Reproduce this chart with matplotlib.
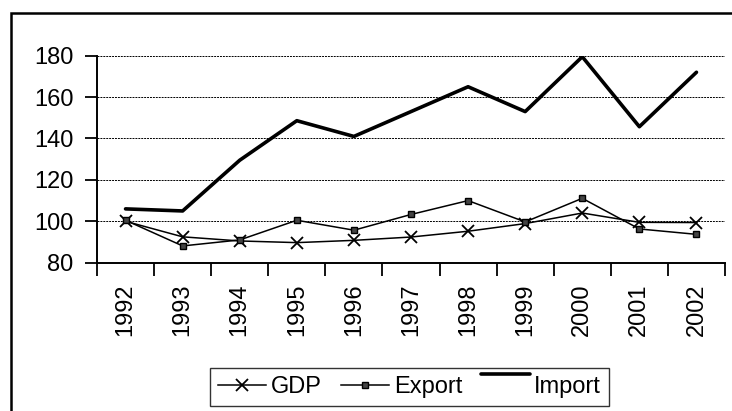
import matplotlib
matplotlib.use("Agg")
import matplotlib.pyplot as plt
from matplotlib.legend_handler import HandlerLine2D
from matplotlib.patches import Rectangle

plt.rcParams['font.family'] = ['Liberation Sans', 'DejaVu Sans']

# data
years = ["1992", "1993", "1994", "1995", "1996", "1997",
         "1998", "1999", "2000", "2001", "2002"]
gdp = [100, 92.5, 90.5, 89.7, 90.8, 92.4, 95.2, 98.9, 104, 99.5, 99.4]
export = [100.5, 88.1, 91, 100.5, 95.7, 103.3, 110, 99.7, 111.1, 96.3, 93.7]
imports = [106, 105, 129.5, 148.6, 141, 153, 165, 153, 179.5, 145.7, 172]
y_ticks = [80, 100, 120, 140, 160, 180]


class RaisedLineHandler(HandlerLine2D):
    """Excel draws the Import key line at the top of the legend row."""
    def create_artists(self, legend, orig_handle, xdescent, ydescent,
                       width, height, fontsize, trans):
        artists = super().create_artists(legend, orig_handle, xdescent, ydescent,
                                         width, height, fontsize, trans)
        for a in artists:
            if hasattr(a, "set_ydata"):
                a.set_ydata([height * 1.15] * len(a.get_ydata()))
        return artists


fig = plt.figure(figsize=(7.32, 4.11), dpi=100)
ax = fig.add_axes([97 / 732, 148.3 / 411, 628 / 732, 207 / 411])

x = list(range(len(years)))
l_gdp, = ax.plot(x, gdp, color="black", lw=1.1, marker="x", ms=8, mew=1.3,
                 label="GDP")
l_exp, = ax.plot(x, export, color="black", lw=1.1, marker="s", ms=5,
                 mfc="#444444", mec="black", mew=1.0, label="Export")
l_imp, = ax.plot(x, imports, color="black", lw=2.6, label="Import",
                 solid_capstyle="round")

ax.set_xlim(-0.5, len(years) - 0.5)
ax.set_ylim(80, 180)
ax.set_yticks(y_ticks)
ax.set_yticklabels([str(v) for v in y_ticks], fontsize=17)
ax.yaxis.grid(True, color="black", linestyle=(0, (2, 1)), lw=0.7)
ax.set_axisbelow(True)

# ticks on category boundaries, labels at centers
ax.set_xticks([i - 0.5 for i in range(len(years) + 1)])
ax.set_xticklabels([])
ax.set_xticks(x, minor=True)
ax.set_xticklabels(years, minor=True, rotation=90, fontsize=17)
ax.tick_params(axis="x", which="minor", length=0, pad=15)
ax.tick_params(axis="both", which="major", length=9, width=1.3,
               direction="out", color="black")
ax.tick_params(axis="y", pad=8)

for s in ["top", "right"]:
    ax.spines[s].set_visible(False)
for s in ["left", "bottom"]:
    ax.spines[s].set_linewidth(1.4)

leg = fig.legend(handles=[l_gdp, l_exp, l_imp], loc="center",
                 bbox_to_anchor=(409.5 / 732, (411 - 387) / 411),
                 ncol=3, fontsize=17, frameon=True, fancybox=False,
                 edgecolor="black", handlelength=2.05, handletextpad=0.2,
                 columnspacing=0.8, borderpad=0.35, borderaxespad=0,
                 handler_map={l_imp: RaisedLineHandler()})
leg.get_frame().set_linewidth(1.0)

# outer chart border
fig.patches.append(Rectangle((11 / 732, -0.1), 1.2, (411 - 13) / 411 + 0.1,
                             transform=fig.transFigure, fill=False,
                             edgecolor="black", lw=1.8))

plt.savefig("out.png", dpi=100)
